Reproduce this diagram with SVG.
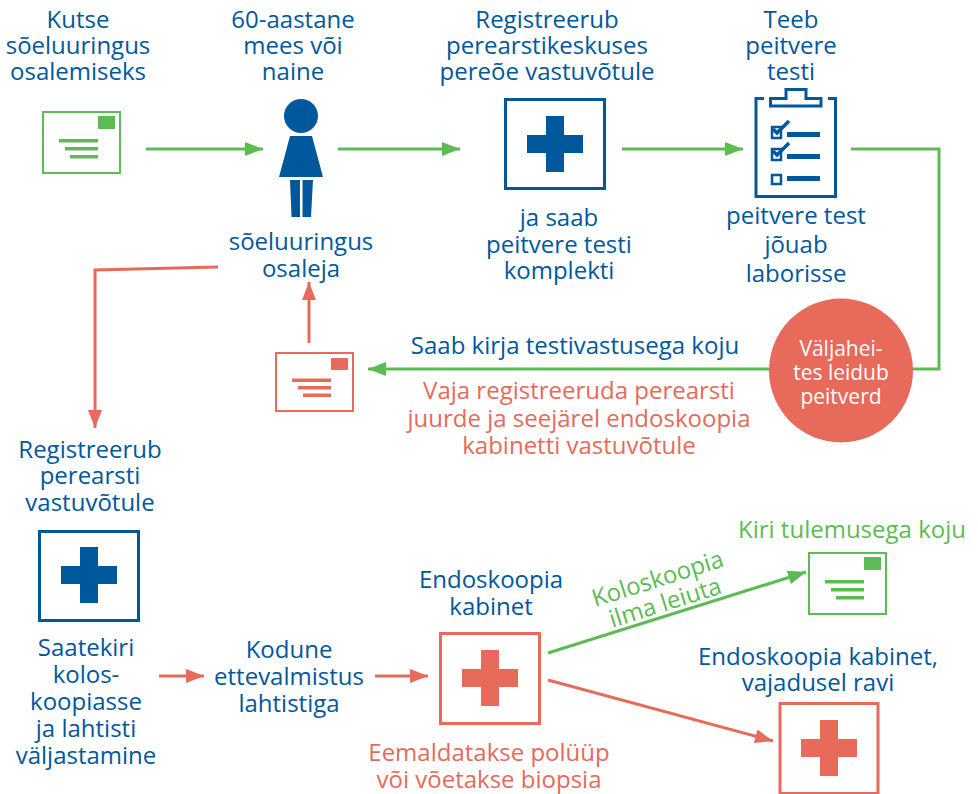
<svg xmlns="http://www.w3.org/2000/svg" width="978" height="794" viewBox="0 0 978 794">
<style>
text{font-family:"Open Sans","Noto Sans","Liberation Sans",sans-serif;font-size:24px;text-anchor:middle;transform:translateY(.6px)}
.b{fill:#00589c}.g{fill:#5dbb54}.r{fill:#e76a5a}.w{fill:#fff}
.ls{fill:none;stroke-width:3}
.sg{stroke:#5dbb54}.sr{stroke:#e76a5a}.sb{stroke:#00589c}
.box{fill:#fff;stroke-width:3}
.env{fill:#fff;stroke-width:2}
</style>
<defs>
<marker id="ag" markerUnits="userSpaceOnUse" markerWidth="19" markerHeight="14" refX="18" refY="7" orient="auto"><path d="M0 0L18 7L0 14Z" fill="#5dbb54"/></marker>
<marker id="ar" markerUnits="userSpaceOnUse" markerWidth="19" markerHeight="14" refX="18" refY="7" orient="auto"><path d="M0 0L18 7L0 14Z" fill="#e76a5a"/></marker>
<path id="cross" d="M-9-28H9V-9H28V9H9V28H-9V9H-28V-9H-9Z"/>
</defs>
<g id="connectors">
<path class="ls sg" marker-end="url(#ag)" d="M146 149H263"/>
<path class="ls sg" marker-end="url(#ag)" d="M338 149H460"/>
<path class="ls sg" marker-end="url(#ag)" d="M622 149H743"/>
<path class="ls sg" marker-end="url(#ag)" d="M851 149H939V369H368"/>
<path class="ls sr" marker-end="url(#ar)" d="M309 343V282"/>
<path class="ls sr" marker-end="url(#ar)" d="M218 267L95 270V428"/>
<path class="ls sr" marker-end="url(#ar)" d="M159 676H204"/>
<path class="ls sr" marker-end="url(#ar)" d="M375 676H428"/>
<path class="ls sg" marker-end="url(#ag)" d="M548 653L806 572"/>
<path class="ls sr" marker-end="url(#ar)" d="M548 680L773 741"/>
</g>
<g id="invite">
<text class="b"><tspan x="78" y="27">Kutse</tspan><tspan x="78" y="53">sõeluuringus</tspan><tspan x="78" y="79">osalemiseks</tspan></text>
<rect class="env sg" x="43" y="112" width="77" height="61"/>
<path class="g" d="M98 116H115V129H98ZM59 139H98V142.500H59ZM65 147H98V150.500H65ZM70 155H98V158.500H70Z"/>
</g>
<g id="person">
<text class="b"><tspan x="293" y="27">60-aastane</tspan><tspan x="293" y="53">mees või</tspan><tspan x="293" y="79">naine</tspan></text>
<circle class="b" cx="301" cy="116" r="17"/>
<path class="b" d="M290 136H312L323 177H279ZM290 180H300V217H291.500ZM302.500 180H313L311 217H302.500Z"/>
<text class="b"><tspan x="301" y="249">sõeluuringus</tspan><tspan x="301" y="276">osaleja</tspan></text>
</g>
<g id="register">
<text class="b"><tspan x="547" y="27">Registreerub</tspan><tspan x="547" y="53">perearstikeskuses</tspan><tspan x="547" y="79">pereõe vastuvõtule</tspan></text>
<rect class="box sb" x="505.500" y="99.500" width="99" height="89"/>
<use href="#cross" class="b" x="555" y="144"/>
<text class="b"><tspan x="559" y="225">ja saab</tspan><tspan x="559" y="252">peitvere testi</tspan><tspan x="559" y="278">komplekti</tspan></text>
</g>
<g id="test">
<text class="b"><tspan x="791" y="27">Teeb</tspan><tspan x="791" y="53">peitvere</tspan><tspan x="791" y="79">testi</tspan></text>
<path fill="none" stroke="#00589c" stroke-width="3" d="M764 98.500H756V196.500H835.500V98.500H828M770.500 98.500H786V89.500H806V98.500H821V106H770.500Z"/>
<path fill="#fff" stroke="#00589c" stroke-width="2.500" d="M772 127H781V138H772ZM772 149H781V160H772ZM772 175H781V184H772Z"/>
<path fill="none" stroke="#00589c" stroke-width="3.500" d="M773 129L777 133L789 121M773 151L777 155L789 143"/>
<path class="b" d="M787 132H820V137H787ZM787 154H820V159H787ZM787 176H820V181H787Z"/>
<text class="b"><tspan x="796" y="223">peitvere test</tspan><tspan x="796" y="252">jõuab</tspan><tspan x="796" y="281">laborisse</tspan></text>
</g>
<g id="blood">
<circle class="r" cx="841" cy="370.500" r="72"/>
<text class="w" style="font-size:21px"><tspan x="841" y="355">Väljahei-</tspan><tspan x="841" y="379">tes leidub</tspan><tspan x="841" y="403">peitverd</tspan></text>
</g>
<g id="result">
<text class="b" x="575" y="353">Saab kirja testivastusega koju</text>
<text class="r"><tspan x="579" y="398">Vaja registreeruda perearsti</tspan><tspan x="579" y="426">juurde ja seejärel endoskoopia</tspan><tspan x="579" y="453">kabinetti vastuvõtule</tspan></text>
</g>
<g id="letter-red">
<rect class="env sr" x="276" y="353" width="77" height="58"/>
<path class="r" d="M331 358H348V370H331ZM292 378.500H331V382H292ZM298 386H331V389.500H298ZM303 393.500H331V397H303Z"/>
</g>
<g id="gp">
<text class="b"><tspan x="90" y="457">Registreerub</tspan><tspan x="90" y="483">perearsti</tspan><tspan x="90" y="510">vastuvõtule</tspan></text>
<rect class="box sb" x="39.500" y="531.500" width="99" height="89"/>
<use href="#cross" class="b" x="89" y="575"/>
<text class="b"><tspan x="86" y="655">Saatekiri</tspan><tspan x="86" y="682">kolos-</tspan><tspan x="86" y="709">koopiasse</tspan><tspan x="86" y="736">ja lahtisti</tspan><tspan x="86" y="763">väljastamine</tspan></text>
</g>
<g id="home">
<text class="b"><tspan x="289" y="657">Kodune</tspan><tspan x="289" y="684">ettevalmistus</tspan><tspan x="289" y="711">lahtistiga</tspan></text>
</g>
<g id="endoscopy">
<text class="b"><tspan x="491" y="587">Endoskoopia</tspan><tspan x="491" y="614">kabinet</tspan></text>
<rect class="box sr" x="440.500" y="633.500" width="99" height="90"/>
<use href="#cross" class="r" x="490" y="678"/>
<text class="r"><tspan x="489" y="760">Eemaldatakse polüüp</tspan><tspan x="489" y="787">või võetakse biopsia</tspan></text>
</g>
<g id="clean">
<g transform="rotate(-17.500 660 586)"><text class="g"><tspan x="660" y="586">Koloskoopia</tspan><tspan x="660" y="611">ilma leiuta</tspan></text></g>
<text class="g" x="852" y="537">Kiri tulemusega koju</text>
<rect class="env sg" x="809" y="553" width="77" height="61"/>
<path class="g" d="M864 557H881V570H864ZM825 580H864V583.500H825ZM831 588H864V591.500H831ZM836 596H864V599.500H836Z"/>
</g>
<g id="treat">
<text class="b"><tspan x="818" y="664">Endoskoopia kabinet,</tspan><tspan x="818" y="690">vajadusel ravi</tspan></text>
<rect class="box sr" x="780" y="703.500" width="98" height="90"/>
<use href="#cross" class="r" x="829" y="748"/>
</g>
</svg>
